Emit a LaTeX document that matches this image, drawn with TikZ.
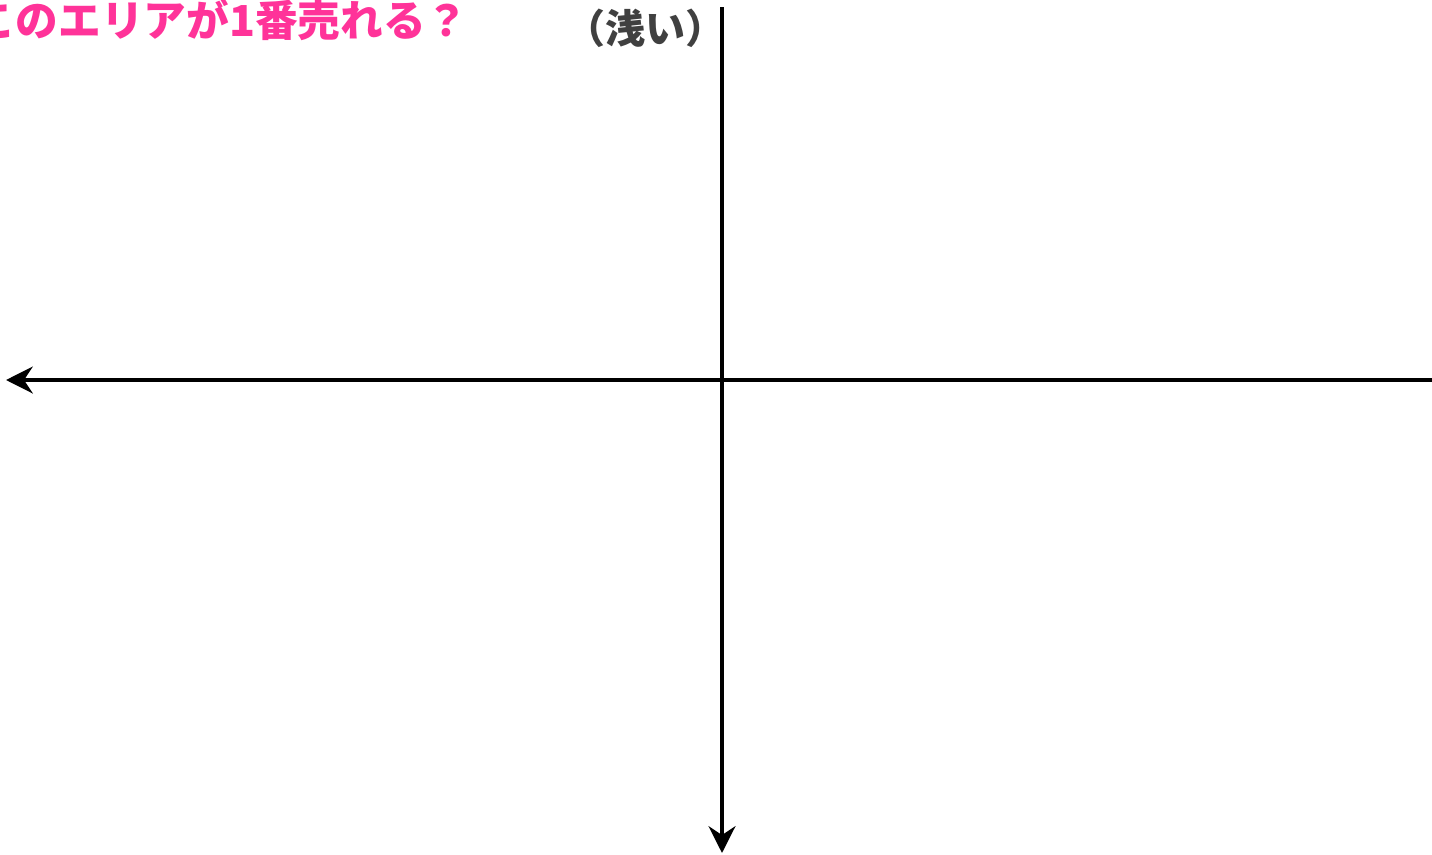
\documentclass[tikz,border=0pt]{standalone}
\usepackage{fontspec}
\newfontfamily\cjk{Noto Sans CJK JP}
\usetikzlibrary{arrows.meta}
\definecolor{hotpink}{HTML}{FF3399}
\definecolor{darkgray}{HTML}{404040}

\begin{document}
\begin{tikzpicture}[x=0.75pt,y=-0.75pt,>={Stealth[length=20pt,width=20pt]}]

\useasboundingbox (0,0) rectangle (1432,854);

\coordinate (right) at (1432,380);
\coordinate (left) at (6,380);
\coordinate (top) at (722,7);
\coordinate (bottom) at (722,853);

\draw[line width=3.5pt,->] (right)--(left);
\draw[line width=3.5pt,->] (top)--(bottom);

\node[anchor=west,inner sep=0pt,text=hotpink,font=\cjk\bfseries\fontsize{32}{32}\selectfont] (question) at (-27,20){このエリアが1番売れる？};

\node[anchor=east,inner sep=0pt,text=darkgray,font=\cjk\bfseries\fontsize{30}{30}\selectfont] (shallow) at (726,28){（浅い）};

\end{tikzpicture}
\end{document}
